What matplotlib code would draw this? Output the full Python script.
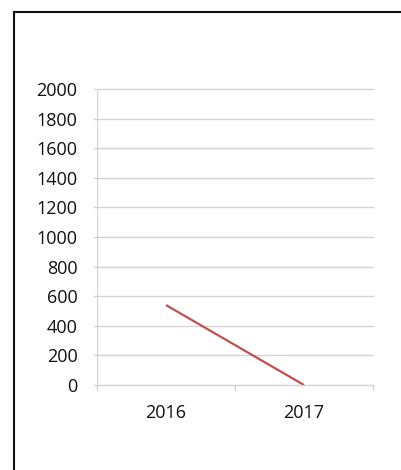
import matplotlib.pyplot as plt
from matplotlib.lines import Line2D

years = ["2016", "2017"]
values = [540, 0]
y_ticks = [0, 200, 400, 600, 800, 1000, 1200, 1400, 1600, 1800, 2000]

plt.rcParams['font.family'] = ['Open Sans', 'DejaVu Sans']

W, H = 402, 470
fig = plt.figure(figsize=(W / 100, H / 100), dpi=100)
ax = fig.add_axes([97 / W, (H - 385) / H, (373 - 97) / W, (385 - 89) / H])

x = range(len(years))
ax.plot(x, values, color='#c0504d', linewidth=1.6, solid_capstyle='butt')

ax.set_xlim(-0.5, len(years) - 0.5)
ax.set_ylim(0, 2000)
ax.set_yticks(y_ticks)
ax.set_yticklabels([str(v) for v in y_ticks], fontsize=13, color='#111111')
ax.set_xticks(x)
ax.set_xticklabels(years, fontsize=13, color='#111111')

# gridlines stretch slightly left of the y axis like the original
for v in y_ticks:
    ax.plot([-0.52, len(years) - 0.5], [v, v], color='#d4d4d4', linewidth=1,
            clip_on=False, zorder=0)

for s in ['top', 'right', 'left']:
    ax.spines[s].set_visible(False)
ax.spines['bottom'].set_color('#d4d4d4')
ax.axvline(-0.5, color='#d4d4d4', linewidth=1, zorder=0)

ax.tick_params(axis='y', length=0, pad=14)
ax.tick_params(axis='x', length=0, pad=14)
# category boundary ticks
for b in [-0.5, 0.5, 1.5]:
    ax.plot([b, b], [0, -35], color='#d4d4d4', linewidth=1, clip_on=False)

# frame on the left and top edges of the picture
fig.add_artist(Line2D([14 / W, 14 / W], [0, 1 - 12 / H], color='#111111', linewidth=1.5))
fig.add_artist(Line2D([14 / W, 1], [1 - 12 / H, 1 - 12 / H], color='#111111', linewidth=1.5))

fig.savefig("out.png", dpi=100)
